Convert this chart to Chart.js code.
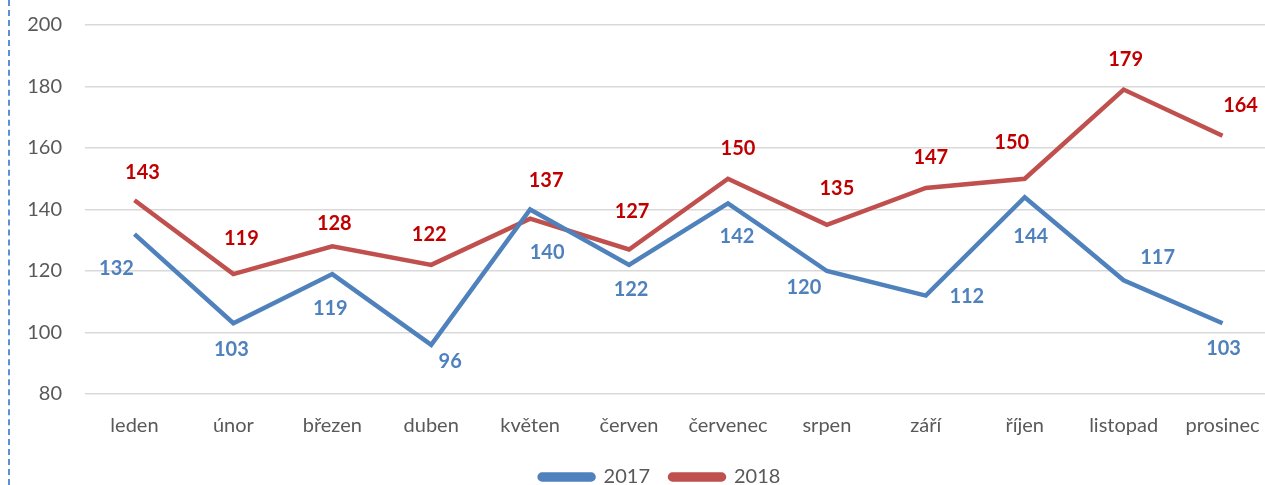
<!DOCTYPE html>
<html>
<head>
<meta charset="utf-8">
<script src="https://cdn.jsdelivr.net/npm/chart.js@4"></script>
<style>
  html, body { margin: 0; padding: 0; background: #fff; overflow: hidden; }
  #myChart { position: absolute; left: 0; top: 0; }
  #edge { position: absolute; left: 8px; top: 0; height: 485px; border-left: 2px dashed #5b8fd8; }
</style>
</head>
<body>
<canvas id="myChart" width="1272" height="497"></canvas>
<div id="edge"></div>
<script>
const labels = ['leden', 'únor', 'březen', 'duben', 'květen', 'červen',
    'červenec', 'srpen', 'září', 'říjen', 'listopad', 'prosinec'];

const values2017 = [132, 103, 119, 96, 140, 122, 142, 120, 112, 144, 117, 103];
const values2018 = [143, 119, 128, 122, 137, 127, 150, 135, 147, 150, 179, 164];

const yTicks = [80, 100, 120, 140, 160, 180, 200];

// where each value label sits relative to its point (dx, dy)
const offsets2017 = [[-18, 34], [-2, 26], [-2, 34], [19, 17], [17, 43], [2, 25],
    [9, 33], [-23, 17], [41, 1], [6, 39], [34, -23], [1, 25]];
const offsets2018 = [[8, -28], [8, -36], [2, -23], [-2, -30], [16, -38], [3, -38],
    [10, -30], [10, -36], [5, -30], [-13, -36], [2, -30], [18, -30]];

const FONT = 'Lato, "Open Sans", sans-serif';

const valueLabels = {
    id: 'valueLabels',
    afterDatasetsDraw(chart) {
        const ctx = chart.ctx;
        ctx.save();
        ctx.font = 'bold 20px ' + FONT;
        ctx.textAlign = 'center';
        ctx.textBaseline = 'middle';
        chart.data.datasets.forEach((ds, i) => {
            const meta = chart.getDatasetMeta(i);
            ctx.fillStyle = ds.labelColor;
            meta.data.forEach((pt, j) => {
                const off = ds.labelOffsets[j];
                ctx.fillText(ds.data[j], pt.x + off[0], pt.y + off[1]);
            });
        });
        ctx.restore();
    }
};

// nudge legend to the right like the original
const legendShift = {
    id: 'legendShift',
    beforeDraw(chart) {
        if (chart.legend && !chart.legend._shifted) {
            chart.legend.left += 24;
            chart.legend.right += 24;
            chart.legend._shifted = true;
        }
    },
    afterLayout(chart) {
        if (chart.legend) chart.legend._shifted = false;
    }
};

const data = {
    labels,
    datasets: [
        {
            label: '2017',
            data: values2017,
            borderColor: '#4f81bd',
            backgroundColor: '#4f81bd',
            borderWidth: 4.5,
            pointRadius: 0,
            tension: 0,
            labelColor: '#4f81bd',
            labelOffsets: offsets2017,
        },
        {
            label: '2018',
            data: values2018,
            borderColor: '#c0504d',
            backgroundColor: '#c0504d',
            borderWidth: 4.5,
            pointRadius: 0,
            tension: 0,
            labelColor: '#c00000',
            labelOffsets: offsets2018,
        },
    ],
};

const config = {
    type: 'line',
    data: data,
    options: {
        responsive: false,
        animation: false,
        layout: { padding: { top: 25, left: 0, right: 0, bottom: 0 } },
        plugins: {
            tooltip: { enabled: false },
            legend: {
                position: 'bottom',
                labels: {
                    color: '#595959',
                    font: { family: FONT, size: 20 },
                    boxWidth: 54,
                    boxHeight: 5,
                    padding: 20,
                    useBorderRadius: true,
                    borderRadius: 2.5,
                },
            },
        },
        scales: {
            x: {
                offset: true,
                grid: { display: false, drawTicks: false },
                border: { display: false },
                afterFit: (axis) => {
                    axis.height -= 11;
                    axis.paddingLeft = 0;
                    axis.paddingRight = 0;
                },
                ticks: {
                    color: '#595959',
                    font: { family: FONT, size: 20 },
                    padding: 20,
                    maxRotation: 0,
                    autoSkip: false,
                },
            },
            y: {
                min: yTicks[0],
                max: yTicks[yTicks.length - 1],
                afterBuildTicks: (axis) => {
                    axis.ticks = yTicks.map(v => ({ value: v }));
                },
                afterFit: (axis) => {
                    axis.width = 85;
                    axis.paddingTop = 0;
                    axis.paddingBottom = 0;
                },
                grid: { color: '#d9d9d9', lineWidth: 1.5, drawTicks: false },
                border: { display: false },
                ticks: {
                    color: '#595959',
                    font: { family: FONT, size: 20 },
                    padding: 23,
                },
            },
        },
    },
    plugins: [valueLabels, legendShift],
};

const myChart = new Chart(document.getElementById('myChart'), config);
</script>
</body>
</html>
